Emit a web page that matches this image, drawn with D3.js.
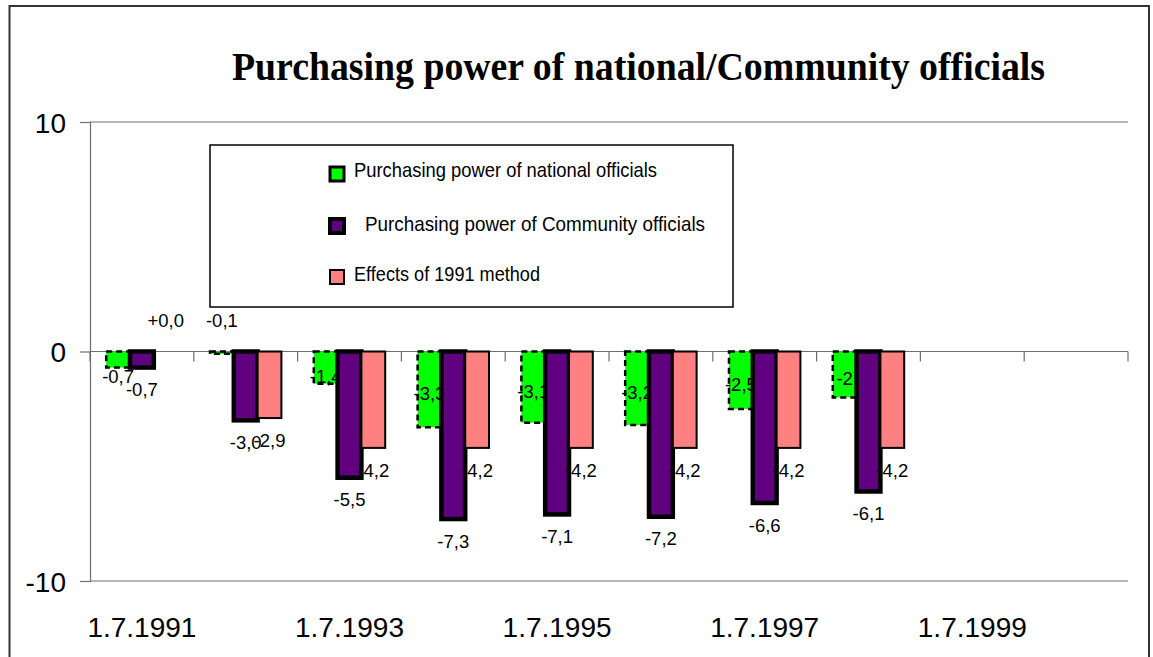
<!DOCTYPE html>
<html>
<head>
<meta charset="utf-8">
<script src="https://cdn.jsdelivr.net/npm/d3@7"></script>
<style>
  html, body { margin: 0; padding: 0; background: #fff; }
  svg { display: block; }
</style>
</head>
<body>
<svg id="chart" width="1153" height="657"></svg>
<script>
// ---------- data ----------
const categories = ["1.7.1991","1.7.1992","1.7.1993","1.7.1994","1.7.1995","1.7.1996","1.7.1997","1.7.1998","1.7.1999","1.7.2000"];
const xTickLabels = ["1.7.1991","1.7.1993","1.7.1995","1.7.1997","1.7.1999"];
const seriesNames = ["Purchasing power of national officials","Purchasing power of Community officials","Effects of 1991 method"];
const nationalValues  = [-0.7, -0.1, -1.4, -3.3, -3.1, -3.2, -2.5, -2.0, null, null];
const communityValues = [-0.7, -3.0, -5.5, -7.3, -7.1, -7.2, -6.6, -6.1, null, null];
const methodValues    = [ 0.0, -2.9, -4.2, -4.2, -4.2, -4.2, -4.2, -4.2, null, null];
const nationalLabels  = ["-0,7","-0,1","-1,4","-3,3","-3,1","-3,2","-2,5","-2"];
const communityLabels = ["-0,7","-3,0","-5,5","-7,3","-7,1","-7,2","-6,6","-6,1"];
const methodLabels    = ["+0,0","-2,9","-4,2","-4,2","-4,2","-4,2","-4,2","-4,2"];
const yTicks = [-10, 0, 10];
const yTickLabels = ["-10", "0", "10"];
const titleText = "Purchasing power of national/Community officials";

// ---------- layout ----------
const svg = d3.select("#chart");
const plot = { left: 90, right: 1128, top: 122, bottom: 581 };
const sans = "'Liberation Sans', Arial, sans-serif";

// frame
svg.append("rect").attr("x", 9.5).attr("y", 6).attr("width", 1139.5).attr("height", 720)
  .attr("fill", "none").attr("stroke", "#333").attr("stroke-width", 2);

// title
svg.append("text").attr("x", 638.5).attr("y", 80).attr("text-anchor", "middle")
  .attr("font-family", "'Liberation Serif', 'Times New Roman', serif")
  .attr("font-weight", "bold").attr("font-size", 41)
  .attr("textLength", 813).attr("lengthAdjust", "spacingAndGlyphs")
  .text(titleText);

const x0 = d3.scaleBand().domain(categories).range([plot.left, plot.right]).paddingInner(0).paddingOuter(0);
const x1 = d3.scaleBand().domain([0, 1, 2]).range([0, x0.bandwidth()]).paddingInner(0).paddingOuter(0.68);
const y = d3.scaleLinear().domain([-10, 10]).range([plot.bottom, plot.top]);

const axisColor = "#6e6e6e";

// gridlines at 10 and -10
svg.append("g").selectAll("line").data(yTicks.filter(d => d !== 0)).join("line")
  .attr("x1", plot.left).attr("x2", plot.right)
  .attr("y1", d => y(d)).attr("y2", d => y(d))
  .attr("stroke", axisColor).attr("stroke-width", 1.2);

// y axis
const yAxis = d3.axisLeft(y).tickValues(yTicks).tickSize(10).tickPadding(14)
  .tickFormat((d, i) => yTickLabels[i]);
const gy = svg.append("g").attr("transform", `translate(${plot.left},0)`).call(yAxis);
gy.select(".domain").attr("stroke", axisColor).attr("stroke-width", 1.2);
gy.selectAll(".tick line").attr("stroke", axisColor).attr("stroke-width", 1.2);
gy.selectAll(".tick text").attr("font-family", sans).attr("font-size", 28).attr("fill", "#000")
  .attr("dy", "0.36em").attr("x", -24);

// x axis at zero: ticks at category boundaries
const boundaries = categories.map(c => x0(c)).concat([plot.right]);
const gx = svg.append("g");
gx.append("line").attr("x1", plot.left).attr("x2", plot.right).attr("y1", y(0)).attr("y2", y(0))
  .attr("stroke", axisColor).attr("stroke-width", 1.2);
gx.selectAll("line.tk").data(boundaries).join("line").attr("class", "tk")
  .attr("x1", d => d).attr("x2", d => d).attr("y1", y(0)).attr("y2", y(0) + 10)
  .attr("stroke", axisColor).attr("stroke-width", 1.2);

// x labels at bottom
svg.append("g").selectAll("text").data(xTickLabels).join("text")
  .attr("x", d => x0(d) + x0.bandwidth() / 2).attr("y", 637)
  .attr("text-anchor", "middle").attr("font-family", sans).attr("font-size", 28).attr("fill", "#000")
  .text(d => d);

// ---------- bars ----------
const styles = [
  { fill: "#00ff00", stroke: "#000", sw: 2.5, dash: "6,4" },
  { fill: "#600080", stroke: "#000", sw: 4.5, dash: null },
  { fill: "#ff8080", stroke: "#000", sw: 2, dash: null }
];
const allValues = [nationalValues, communityValues, methodValues];
const allLabels = [nationalLabels, communityLabels, methodLabels];

function barData(si) {
  return categories.map((c, i) => ({ c, i, v: allValues[si][i] })).filter(d => d.v !== null);
}
function drawBars(si) {
  const st = styles[si];
  svg.append("g").selectAll("rect").data(barData(si)).join("rect")
    .attr("x", d => x0(d.c) + x1(si))
    .attr("width", x1.bandwidth())
    .attr("y", d => Math.min(y(0), y(d.v)))
    .attr("height", d => Math.abs(y(d.v) - y(0)))
    .attr("fill", st.fill).attr("stroke", st.stroke).attr("stroke-width", st.sw)
    .attr("stroke-dasharray", st.dash);
}
function labelY(si, d) {
  // near-zero values are labelled above the axis
  if (d.v > -0.5 && (si === 2 || d.i > 0)) return y(0) - 31;
  if (si === 0) return y(0) + Math.max((y(d.v) - y(0)) / 2 + 4, 25);
  return y(d.v) + 22;
}
function drawLabels(si) {
  const data = barData(si).filter(d => d.i < allLabels[si].length);
  svg.append("g").selectAll("text").data(data).join("text")
    .attr("x", d => x0(d.c) + x1(si) + x1.bandwidth() / 2)
    .attr("y", d => labelY(si, d))
    .attr("dy", "0.36em")
    .attr("text-anchor", "middle").attr("font-family", sans).attr("font-size", 18.5).attr("fill", "#000")
    .text(d => allLabels[si][d.i]);
}

drawBars(0);
drawLabels(0);
drawBars(1);
drawBars(2);
drawLabels(1);
drawLabels(2);

// ---------- legend ----------
const lg = svg.append("g");
lg.append("rect").attr("x", 210).attr("y", 145).attr("width", 523).attr("height", 162)
  .attr("fill", "#fff").attr("stroke", "#000").attr("stroke-width", 1.5);
const legendRows = [
  { sy: 167, tx: 354, ty: 177, tl: 303 },
  { sy: 219, tx: 365, ty: 231, tl: 340 },
  { sy: 270, tx: 354, ty: 281, tl: 186 }
];
lg.selectAll("rect.sw").data(seriesNames).join("rect").attr("class", "sw")
  .attr("x", 330).attr("y", (d, i) => legendRows[i].sy)
  .attr("width", 14).attr("height", 14)
  .attr("fill", (d, i) => styles[i].fill).attr("stroke", "#000")
  .attr("stroke-width", (d, i) => i === 1 ? 4 : (i === 0 ? 3 : 2));
lg.selectAll("text").data(seriesNames).join("text")
  .attr("x", (d, i) => legendRows[i].tx).attr("y", (d, i) => legendRows[i].ty)
  .attr("font-family", sans).attr("font-size", 21).attr("fill", "#000")
  .attr("textLength", (d, i) => legendRows[i].tl).attr("lengthAdjust", "spacingAndGlyphs")
  .text(d => d);
</script>
</body>
</html>
